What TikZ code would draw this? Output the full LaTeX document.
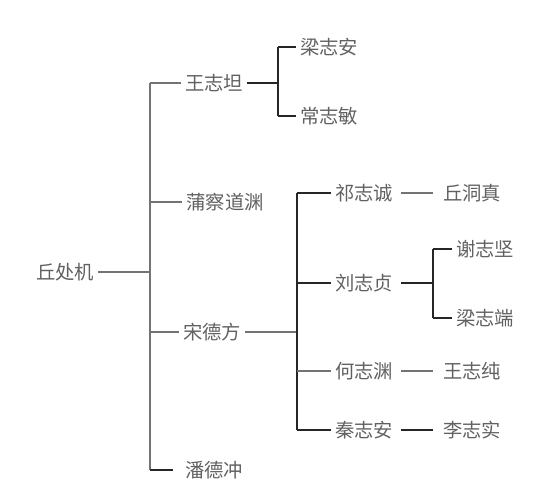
\documentclass[tikz,border=0pt]{standalone}
\usepackage{fontspec}
\setmainfont{Noto Sans CJK SC}
\usetikzlibrary{calc}

\begin{document}
\begin{tikzpicture}[x=0.02cm,y=-0.02cm,
    person/.style={text=black!62, font=\fontsize{11}{13}\selectfont, inner xsep=2pt, inner ysep=1pt},
    link/.style={draw=black!55, line width=0.6pt},
    boldlink/.style={draw=black!85, line width=0.95pt}]
          \useasboundingbox (0,0) rectangle (551,500);

          % names
          \node[person] (qiu)   at (65,272){丘处机};
          \node[person] (wang)  at (214,83){王志坦};
          \node[person] (lza)   at (329,47){梁志安};
          \node[person] (chang) at (329,116){常志敏};
          \node[person] (pucha) at (225,202){蒲察道渊};
          \node[person] (song)  at (212,332){宋德方};
          \node[person] (pan)   at (214,470){潘德冲};
          \node[person] (qi)    at (364,193){祁志诚};
          \node[person] (qdz)   at (472,193){丘洞真};
          \node[person] (liu)   at (364,283){刘志贞};
          \node[person] (xie)   at (485,249){谢志坚};
          \node[person] (lzd)   at (485,318){梁志端};
          \node[person] (he)    at (364,371){何志渊};
          \node[person] (wzc)   at (472,371){王志纯};
          \node[person] (qin)   at (364,430){秦志安};
          \node[person] (li)    at (472,430){李志实};

          % junctions
          \coordinate (m1) at (150,83);
          \coordinate (m2) at (150,202);
          \coordinate (m3) at (150,272);
          \coordinate (m4) at (150,332);
          \coordinate (m5) at (150,470);
          \coordinate (w1) at (278,47);
          \coordinate (w2) at (278,83);
          \coordinate (w3) at (278,116);
          \coordinate (s1) at (297,193);
          \coordinate (s2) at (297,283);
          \coordinate (s3) at (297,332);
          \coordinate (s4) at (297,371);
          \coordinate (s5) at (297,430);
          \coordinate (l1) at (433,249);
          \coordinate (l2) at (433,283);
          \coordinate (l3) at (433,318);

          % first generation
          \draw[link] (m1) -- (m5);
          \draw[link] (qiu.east) -- (m3);
          \draw[link] (m1) -- (wang.west);
          \draw[link] (m2) -- (pucha.west);
          \draw[link] (m4) -- (song.west);
          \draw[boldlink] (m5) -- ($(pan.west)+(-8,0)$);

          % wang
          \draw[boldlink] (wang.east) -- (w2);
          \draw[boldlink] (w1) -- (w3);
          \draw[boldlink] (w1) -- (lza.west);
          \draw[boldlink] (w3) -- (chang.west);

          % song
          \draw[link] (song.east) -- (s3);
          \draw[boldlink] (s1) -- (s5);
          \draw[boldlink] (s1) -- (qi.west);
          \draw[boldlink] (s2) -- (liu.west);
          \draw[link] (s4) -- (he.west);
          \draw[boldlink] (s5) -- (qin.west);

          % third generation
          \draw[link] ($(qi.east)+(4,0)$) -- ($(qdz.west)+(-6,0)$);
          \draw[link] ($(he.east)+(4,0)$) -- ($(wzc.west)+(-6,0)$);
          \draw[boldlink] ($(qin.east)+(4,0)$) -- ($(li.west)+(-6,0)$);
          \draw[boldlink] ($(liu.east)+(4,0)$) -- (l2);
          \draw[boldlink] (l1) -- (l3);
          \draw[boldlink] (l1) -- (xie.west);
          \draw[boldlink] (l3) -- (lzd.west);
\end{tikzpicture}
\end{document}
